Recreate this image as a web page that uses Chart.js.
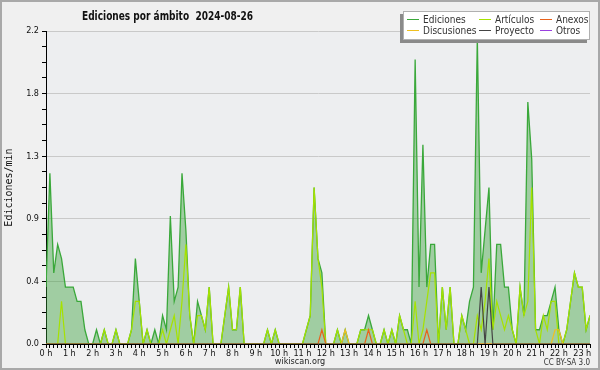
<!DOCTYPE html>
<html>
<head>
<meta charset="utf-8">
<script src="https://cdn.jsdelivr.net/npm/chart.js@4.4.1/dist/chart.umd.min.js"></script>
<style>
  html, body { margin: 0; padding: 0; background: #f0f0f0; }
  #wrap { position: relative; width: 600px; height: 370px; overflow: hidden; }
  #frame { position: absolute; left: 0; top: 0; width: 600px; height: 370px; box-sizing: border-box; border: 2px solid #a9a9a9; pointer-events: none; }
  .txt { position: absolute; font-family: "DejaVu Sans Condensed", "DejaVu Sans", sans-serif; color: #111; white-space: nowrap; }
  #title { left: 82px; top: 9px; font-size: 12px; font-weight: bold; transform: scaleX(0.835); transform-origin: 0 0; }
  #site { left: 0; width: 600px; text-align: center; top: 356px; font-size: 9px; color: #222; }
  #licence { right: 10px; top: 358px; font-size: 8px; color: #333; }
  #legend { position: absolute; left: 403px; top: 11px; width: 187px; height: 29px; box-sizing: border-box;
    background: #fff; border: 1px solid #b0b0b0; box-shadow: -3px 3px 0 #8a8a8a;
    display: grid; grid-template-columns: 72px 61px auto; grid-auto-rows: 11px; padding-top: 2px; padding-left: 2px; }
  #legend .item { display: flex; align-items: center; font-family: "DejaVu Sans Condensed", "DejaVu Sans", sans-serif; font-size: 10px; color: #333; white-space: nowrap; }
  #legend .line { display: inline-block; width: 12px; height: 1px; margin: 0 4px 0 1px; }
</style>
</head>
<body>
<div id="wrap">
  <canvas id="chart" width="600" height="370"></canvas>
  <div class="txt" id="title">Ediciones por ámbito&nbsp;&nbsp;2024-08-26</div>
  <div id="legend"></div>
  <div class="txt" id="site">wikiscan.org</div>
  <div class="txt" id="licence">CC BY-SA 3.0</div>
  <div id="frame"></div>
</div>
<script>
// una muestra cada ~10 min, 0 h -> 23 h
const hourLabels = ["0 h", "1 h", "2 h", "3 h", "4 h", "5 h", "6 h", "7 h", "8 h", "9 h", "10 h", "11 h",
  "12 h", "13 h", "14 h", "15 h", "16 h", "17 h", "18 h", "19 h", "20 h", "21 h", "22 h", "23 h"];

const ediciones = [
  0.4, 1.2, 0.5, 0.7, 0.6, 0.4, 0.4, 0.4, 0.3, 0.3,
  0.1, 0, 0, 0.1, 0, 0.1, 0, 0, 0.1, 0,
  0, 0, 0.1, 0.6, 0.3, 0, 0.1, 0, 0.1, 0,
  0.2, 0.1, 0.9, 0.3, 0.4, 1.2, 0.8, 0.2, 0, 0.3,
  0.2, 0.1, 0.4, 0, 0, 0, 0.2, 0.4, 0.1, 0.1,
  0.4, 0, 0, 0, 0, 0, 0, 0.1, 0, 0.1,
  0, 0, 0, 0, 0, 0, 0, 0.1, 0.2, 1.1,
  0.6, 0.5, 0, 0, 0, 0.1, 0, 0.1, 0, 0,
  0, 0.1, 0.1, 0.2, 0.1, 0, 0, 0.1, 0, 0.1,
  0, 0.2, 0.1, 0.1, 0, 2.0, 0.4, 1.4, 0.4, 0.7,
  0.7, 0, 0.4, 0.1, 0.4, 0, 0, 0.2, 0.1, 0.3,
  0.4, 2.15, 0.5, 0.8, 1.1, 0.1, 0.7, 0.7, 0.4, 0.4,
  0.1, 0, 0.4, 0.2, 1.7, 1.3, 0.1, 0.1, 0.2, 0.2,
  0.3, 0.4, 0.1, 0, 0.1, 0.3, 0.5, 0.4, 0.4, 0.1,
  0.2
];
const articulos = [
  0, 0, 0, 0, 0.3, 0, 0, 0, 0, 0,
  0, 0, 0, 0, 0, 0.1, 0, 0, 0.1, 0,
  0, 0, 0.1, 0.3, 0.3, 0, 0.1, 0, 0, 0,
  0.1, 0, 0.1, 0.2, 0, 0.3, 0.7, 0.2, 0, 0.2,
  0.2, 0.1, 0.4, 0, 0, 0, 0.2, 0.4, 0.1, 0.1,
  0.4, 0, 0, 0, 0, 0, 0, 0.1, 0, 0.1,
  0, 0, 0, 0, 0, 0, 0, 0.1, 0.2, 1.1,
  0.6, 0.4, 0, 0, 0, 0.1, 0, 0, 0, 0,
  0, 0.1, 0.1, 0.1, 0.1, 0, 0, 0.1, 0, 0.1,
  0, 0.2, 0.1, 0, 0, 0.3, 0, 0.1, 0.3, 0.5,
  0.5, 0, 0.4, 0.1, 0.4, 0, 0, 0.2, 0.1, 0,
  0, 0.2, 0.1, 0.3, 0.6, 0.1, 0.3, 0.2, 0.1, 0.2,
  0.1, 0, 0.4, 0.2, 0.3, 1.1, 0.1, 0, 0.2, 0.1,
  0.3, 0.3, 0, 0, 0.1, 0.3, 0.5, 0.4, 0.4, 0.1,
  0.2
];
const anexos = [
  0, 0, 0, 0, 0, 0, 0, 0, 0, 0,
  0, 0, 0, 0, 0, 0, 0, 0, 0, 0,
  0, 0, 0, 0, 0, 0, 0, 0, 0, 0,
  0, 0, 0, 0, 0, 0, 0, 0, 0, 0,
  0, 0, 0, 0, 0, 0, 0, 0, 0, 0,
  0, 0, 0, 0, 0, 0, 0, 0, 0, 0,
  0, 0, 0, 0, 0, 0, 0, 0, 0, 0,
  0, 0.1, 0, 0, 0, 0, 0, 0, 0, 0,
  0, 0, 0, 0.1, 0, 0, 0, 0, 0, 0,
  0, 0, 0, 0, 0, 0, 0, 0, 0.1, 0,
  0, 0, 0, 0, 0, 0, 0, 0, 0, 0,
  0, 0, 0, 0, 0, 0, 0, 0, 0, 0,
  0, 0, 0, 0, 0, 0, 0, 0, 0, 0,
  0, 0, 0, 0, 0, 0, 0, 0, 0, 0,
  0
];
const discusiones = [
  0, 0, 0, 0, 0, 0, 0, 0, 0, 0,
  0, 0, 0, 0, 0, 0, 0, 0, 0, 0,
  0, 0, 0, 0, 0, 0, 0, 0, 0, 0,
  0, 0, 0, 0, 0, 0, 0, 0, 0, 0,
  0, 0, 0, 0, 0, 0, 0, 0, 0, 0,
  0, 0, 0, 0, 0, 0, 0, 0, 0, 0,
  0, 0, 0, 0, 0, 0, 0, 0, 0, 0,
  0, 0, 0, 0, 0, 0, 0, 0.1, 0, 0,
  0, 0, 0, 0, 0, 0, 0, 0, 0, 0,
  0, 0, 0, 0, 0, 0, 0, 0, 0, 0,
  0, 0, 0, 0, 0, 0, 0, 0, 0, 0,
  0, 0, 0, 0, 0, 0, 0, 0, 0, 0,
  0, 0, 0, 0, 0, 0, 0, 0, 0, 0,
  0, 0.1, 0.1, 0, 0, 0, 0, 0, 0, 0,
  0
];
const proyecto = [
  0, 0, 0, 0, 0, 0, 0, 0, 0, 0,
  0, 0, 0, 0, 0, 0, 0, 0, 0, 0,
  0, 0, 0, 0, 0, 0, 0, 0, 0, 0,
  0, 0, 0, 0, 0, 0, 0, 0, 0, 0,
  0, 0, 0, 0, 0, 0, 0, 0, 0, 0,
  0, 0, 0, 0, 0, 0, 0, 0, 0, 0,
  0, 0, 0, 0, 0, 0, 0, 0, 0, 0,
  0, 0, 0, 0, 0, 0, 0, 0, 0, 0,
  0, 0, 0, 0, 0, 0, 0, 0, 0, 0,
  0, 0, 0, 0, 0, 0, 0, 0, 0, 0,
  0, 0, 0, 0, 0, 0, 0, 0, 0, 0,
  0, 0, 0.4, 0, 0.4, 0, 0, 0, 0, 0,
  0, 0, 0, 0, 0, 0, 0, 0, 0, 0,
  0, 0, 0, 0, 0, 0, 0, 0, 0, 0,
  0
];
const otros = [
  0, 0, 0, 0, 0, 0, 0, 0, 0, 0,
  0, 0, 0, 0, 0, 0, 0, 0, 0, 0,
  0, 0, 0, 0, 0, 0, 0, 0, 0, 0,
  0, 0, 0, 0, 0, 0, 0, 0, 0, 0,
  0, 0, 0, 0, 0, 0, 0, 0, 0, 0,
  0, 0, 0, 0, 0, 0, 0, 0, 0, 0,
  0, 0, 0, 0, 0, 0, 0, 0, 0, 0,
  0, 0, 0, 0, 0, 0, 0, 0, 0, 0,
  0, 0, 0, 0, 0, 0, 0, 0, 0, 0,
  0, 0, 0, 0, 0, 0, 0, 0, 0, 0,
  0, 0, 0, 0, 0, 0, 0, 0, 0, 0,
  0, 0, 0, 0, 0, 0, 0, 0, 0, 0,
  0, 0, 0, 0, 0, 0, 0, 0, 0, 0,
  0, 0, 0, 0, 0, 0, 0, 0, 0, 0,
  0
];

const seriesNames = ["Ediciones", "Artículos", "Anexos", "Discusiones", "Proyecto", "Otros"];
const seriesColors = ["#3aa83a", "#a6e200", "#e8621c", "#f0c020", "#444444", "#9a40e0"];
const seriesData = [ediciones, articulos, anexos, discusiones, proyecto, otros];
const drawOrder = [5, 4, 3, 2, 1, 6]; // menor = encima

const xIdx = ediciones.map((_, i) => i);

const axisFont = { family: '"DejaVu Sans Condensed", "DejaVu Sans", sans-serif', size: 9 };

// fondo gris del área de trazado
const plotBg = {
  id: "plotBg",
  beforeDraw(chart) {
    const { ctx, chartArea: a } = chart;
    ctx.save();
    ctx.fillStyle = "#edeef0";
    ctx.fillRect(a.left, a.top, a.right - a.left, a.bottom - a.top);
    ctx.restore();
  },
};

const chart = new Chart(document.getElementById("chart"), {
  type: "line",
  data: {
    labels: xIdx,
    datasets: seriesData.map((d, k) => ({
      label: seriesNames[k],
      data: d,
      borderColor: seriesColors[k],
      backgroundColor: k === 0 ? "rgba(56, 160, 56, 0.42)" : seriesColors[k],
      fill: k === 0 ? "origin" : false,
      borderWidth: k === 0 ? 1.3 : 1.2,
      order: drawOrder[k],
    })),
  },
  options: {
    responsive: false,
    animation: false,
    layout: { padding: { top: 31, right: 10, left: 0, bottom: 0 } },
    elements: { point: { radius: 0 }, line: { tension: 0 } },
    plugins: { legend: { display: false }, tooltip: { enabled: false } },
    scales: {
      x: {
        type: "linear",
        min: 0,
        max: ediciones.length - 1,
        z: 1,
        border: { color: "#000", width: 1 },
        grid: { drawOnChartArea: false, tickLength: 4, color: "#000", tickColor: "#000" },
        ticks: {
          stepSize: 1,
          autoSkip: false,
          maxRotation: 0,
          minRotation: 0,
          padding: 0,
          color: "#111",
          font: axisFont,
          callback: (v) => (v % 6 === 0 ? hourLabels[v / 6] : ""),
        },
        afterFit: (s) => { s.height = 26; },
      },
      y: {
        min: 0,
        max: 2.2,
        border: { color: "#000", width: 1 },
        grid: {
          color: (c) => (c.index % 4 === 0 ? "#c9c9c9" : "rgba(0,0,0,0)"),
          tickColor: "#000",
          tickLength: 4,
        },
        ticks: {
          stepSize: 0.11,
          autoSkip: false,
          padding: 3,
          color: "#111",
          font: axisFont,
          callback: (v, i) => (i % 4 === 0 ? v.toFixed(1) : ""),
        },
        title: {
          display: true,
          text: "Ediciones/min",
          color: "#111",
          font: { family: '"DejaVu Sans Mono", monospace', size: 10 },
          padding: { top: 3, bottom: 0 },
        },
        afterFit: (s) => { s.width = 46; },
      },
    },
  },
  plugins: [plotBg],
});

// leyenda
const legend = document.getElementById("legend");
seriesNames.forEach((name, k) => {
  const item = document.createElement("div");
  item.className = "item";
  item.innerHTML = '<span class="line" style="background:' + seriesColors[k] + '"></span>' + name;
  legend.appendChild(item);
});
</script>
</body>
</html>
